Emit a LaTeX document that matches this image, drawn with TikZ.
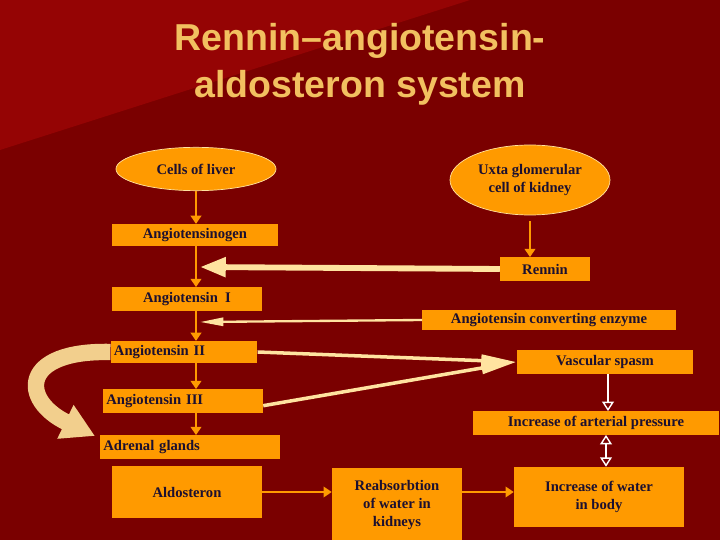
\documentclass[tikz,border=0pt]{standalone}
\usepackage{fontspec}
\setmainfont{Liberation Serif}
\setsansfont{Liberation Sans}
\usetikzlibrary{arrows.meta,shapes.geometric,positioning}
\definecolor{slidebg}{HTML}{7A0000}
\definecolor{slidehi}{HTML}{950404}
\definecolor{boxfill}{HTML}{FF9A00}
\definecolor{inktext}{HTML}{1C1030}
\definecolor{titlecol}{HTML}{F2C060}
\definecolor{paleflow}{HTML}{FFE3A0}
\begin{document}
\begin{tikzpicture}[x=0.03cm,y=-0.03cm,
	font=\bfseries\fontsize{12.5}{15}\selectfont,
	base/.style = {fill=boxfill, text=inktext, inner sep=1pt, align=center},
	labelbox/.style = {base, rectangle, minimum height=8mm},
	cellnode/.style = {base, ellipse, draw=paleflow, line width=0.6pt},
	stepdown/.style = {draw=boxfill, line width=1.6pt, -{Triangle[open,length=7pt,width=9pt,fill=boxfill]}},
	hollow/.style = {draw=white, line width=1.2pt, -{Triangle[open,length=8pt,width=10pt]}},
	bigflow/.style = {draw=paleflow, line width=#1, -{Triangle[length=22pt,width=16pt]}},
	bigflow/.default = 4pt]
% background
\fill[slidebg] (0,0) rectangle (720,540);
\fill[slidehi] (0,0) -- (470,0) -- (0,150) -- cycle;
\useasboundingbox (0,0) rectangle (720,540);
%
\node[text=titlecol, font=\sffamily\bfseries\fontsize{32}{40}\selectfont, align=center]
	(title) at (360,64) {Rennin--angiotensin-\\aldosteron system};
%
\node[cellnode, minimum width=4.8cm, minimum height=1.3cm] (liver) at (196,169) {Cells of liver};
\node[cellnode, minimum width=4.8cm, minimum height=2.1cm] (kidney) at (530,180) {Uxta glomerular\\cell of kidney};
\node[labelbox, minimum width=5.0cm, minimum height=6.5mm] (ogen) at (195,235) {Angiotensinogen};
\node[labelbox, minimum width=2.7cm, minimum height=7mm] (rennin) at (545,269) {Rennin};
\node[labelbox, minimum width=4.5cm, minimum height=7mm] (ang1) at (187,299) {Angiotensin\ \ I};
\node[labelbox, minimum width=7.6cm, minimum height=6mm] (ace) at (549,320) {Angiotensin converting enzyme};
\node[labelbox, minimum width=4.4cm, minimum height=6.5mm, text width=4.2cm, align=left] (ang2) at (184,352) {Angiotensin II};
\node[labelbox, minimum width=5.3cm, minimum height=7mm] (spasm) at (605,362) {Vascular spasm};
\node[labelbox, minimum width=4.8cm, minimum height=7mm, text width=4.6cm, align=left] (ang3) at (183,401) {Angiotensin III};
\node[labelbox, minimum width=7.4cm, minimum height=7mm] (arterial) at (596,423) {Increase of arterial pressure};
\node[labelbox, minimum width=5.4cm, minimum height=7mm, text width=5.2cm, align=left] (adrenal) at (190,447) {Adrenal glands};
\node[labelbox, minimum width=4.5cm, minimum height=1.55cm] (aldo) at (187,492) {Aldosteron};
\node[labelbox, minimum width=3.9cm, minimum height=2.2cm] (reabs) at (397,505) {Reabsorbtion\\of water in\\kidneys};
\node[labelbox, minimum width=5.1cm, minimum height=1.8cm] (water) at (599,497) {Increase of water\\in body};
%
\coordinate (lane) at (196,0);
\draw[stepdown] (liver.south -| lane) -- (ogen.north -| lane);
\draw[stepdown] ([yshift=-5pt]kidney.south) -- (rennin.north -| kidney);
\draw[stepdown] (ogen.south -| lane) -- (ang1.north -| lane);
\draw[stepdown] (ang1.south -| lane) -- (ang2.north -| lane);
\draw[stepdown] (ang2.south -| lane) -- (ang3.north -| lane);
\draw[stepdown] (ang3.south -| lane) -- (adrenal.north -| lane);
\draw[stepdown] (aldo.east) -- (aldo.east -| reabs.west);
\draw[stepdown] (aldo.east -| reabs.east) -- (aldo.east -| water.west);
\draw[hollow] (spasm.south -| 608,0) -- (arterial.north -| 608,0);
\draw[hollow, {Triangle[open,length=8pt,width=10pt]}-{Triangle[open,length=8pt,width=10pt]}]
	(arterial.south -| 606,0) -- (water.north -| 606,0);
%
\draw[bigflow=5pt] (rennin.west) -- (200,267);
\draw[bigflow=2pt, -{Triangle[length=20pt,width=7pt]}] (ace.west) -- (200,322);
\draw[bigflow=3pt, -{Triangle[length=30pt,width=10pt]}] (ang2.east) -- (spasm.west);
\draw[bigflow=3pt, -{Triangle[length=30pt,width=10pt]}] ([yshift=-4pt]ang3.east) -- (spasm.west);
\draw[draw=paleflow!80!brown, line width=14pt, -{Triangle[length=28pt,width=30pt]}]
	(ang2.west) .. controls (20,350) and (20,400) .. (95,436);
\end{tikzpicture}
\end{document}
